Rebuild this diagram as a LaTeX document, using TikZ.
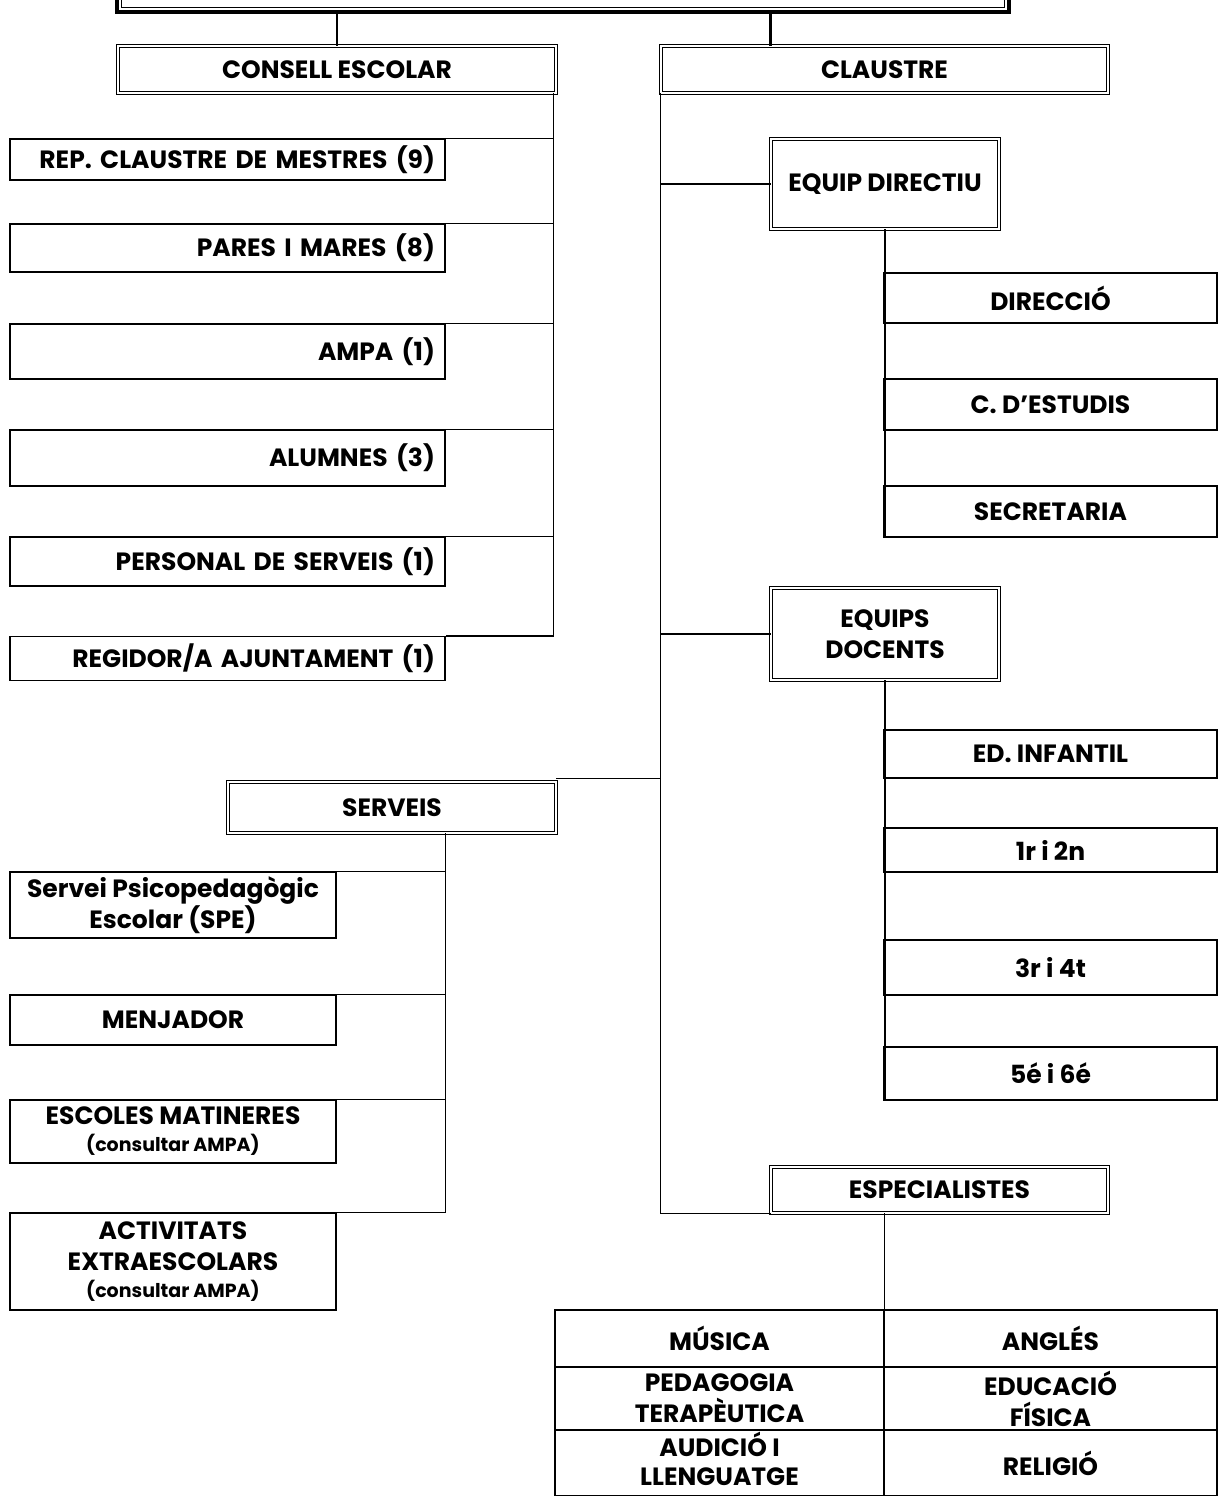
\documentclass[tikz,border=0pt]{standalone}
\usepackage{fontspec}
\setmainfont{Poppins}
\begin{document}
\begin{tikzpicture}[x=0.5pt, y=-0.5pt,
    every node/.style={font=\bfseries\fontsize{12.5}{15.5}\selectfont, inner sep=0pt, align=center},
    box/.style={draw, line width=0.6pt},
    dbox/.style={draw, line width=0.45pt, double, double distance=1.4pt},
    member/.style={box, minimum width=217.5pt, text width=207.5pt, align=right},
    child/.style={box, minimum width=166.5pt},
    service/.style={box, minimum width=163pt}]
    \useasboundingbox (0,0) rectangle (1220,1496);

    % Top box (cut off)
    \node[draw, line width=2.4pt, minimum width=446pt, minimum height=30pt] (top) at (563,-18) {};
    \draw[line width=0.6pt] ([shift={(3.5pt,-3.5pt)}]top.north west) rectangle ([shift={(-3.5pt,3.5pt)}]top.south east);

    % Main boxes
    \node[dbox, minimum width=219pt, minimum height=23.5pt] (cons) at (337,69.5) {CONSELL ESCOLAR};
    \node[dbox, minimum width=223.5pt, minimum height=23.5pt] (clau) at (884.5,69.5) {CLAUSTRE};

    % Consell escolar
    \node[member, minimum height=20.5pt] (rep) at (227.5,159.5) {REP. CLAUSTRE DE MESTRES (9)};
    \node[member, minimum height=24pt] (pares) at (227.5,248) {PARES I MARES (8)};
    \node[member, minimum height=27.5pt] (ampa) at (227.5,351.5) {AMPA (1)};
    \node[member, minimum height=28pt] (alum) at (227.5,458) {ALUMNES (3)};
    \node[member, minimum height=24.5pt] (pers) at (227.5,561.5) {PERSONAL DE SERVEIS (1)};
    \node[member, minimum height=22pt] (regi) at (227.5,658.5) {REGIDOR/A AJUNTAMENT (1)};

    % Claustre
    \node[dbox, minimum width=114pt, minimum height=45pt] (dir) at (885,184) {EQUIP DIRECTIU};
    \node[child, minimum height=25pt] (direc) at (1050.5,298) {DIRECCIÓ};
    \node[child, minimum height=25.5pt] (estud) at (1050.5,404.5) {C. D’ESTUDIS};
    \node[child, minimum height=25.5pt] (secr) at (1050.5,511.5) {SECRETARIA};

    \node[dbox, minimum width=114pt, minimum height=46pt] (doc) at (885,634) {EQUIPS\\DOCENTS};
    \node[child, minimum height=24pt] (inf) at (1050.5,754) {ED. INFANTIL};
    \node[child, minimum height=22pt] (c12) at (1050.5,850) {1r i 2n};
    \node[child, minimum height=27.5pt] (c34) at (1050.5,967.5) {3r i 4t};
    \node[child, minimum height=26.5pt] (c56) at (1050.5,1073.5) {5é i 6é};

    \node[dbox, minimum width=168.5pt, minimum height=23pt] (esp) at (939.5,1190) {ESPECIALISTES};
    \node[box, minimum width=164.5pt, minimum height=28.5pt] (mus) at (719.5,1338.5) {MÚSICA};
    \node[box, minimum width=166.5pt, minimum height=28.5pt] (ang) at (1050.5,1338.5) {ANGLÉS};
    \node[box, minimum width=164.5pt, minimum height=31.5pt] (ped) at (719.5,1398.5) {PEDAGOGIA\\TERAPÈUTICA};
    \node[box, minimum width=166.5pt, minimum height=31.5pt] (ef) at (1050.5,1398.5) {EDUCACIÓ\\FÍSICA};
    \node[box, minimum width=164.5pt, minimum height=33pt] (aud) at (719.5,1463)
        {\raisebox{2.5pt}{\begin{tabular}{@{}c@{}}AUDICIÓ I\\[-1pt]LLENGUATGE\end{tabular}}};
    \node[box, minimum width=166.5pt, minimum height=33pt] (rel) at (1050.5,1463) {RELIGIÓ};

    % Serveis
    \node[dbox, minimum width=164pt, minimum height=25.5pt] (serv) at (392,807.5) {SERVEIS};
    \node[service, minimum height=33pt] (spe) at (173,905) {Servei Psicopedagògic\\Escolar (SPE)};
    \node[service, minimum height=25pt] (menj) at (173,1020) {MENJADOR};
    \node[service, minimum height=31.5pt] (mat) at (173,1131.5) {ESCOLES MATINERES\\[-2pt]{\fontsize{9.5}{11}\selectfont (consultar AMPA)}};
    \node[service, minimum height=48.5pt] (act) at (173,1261.5) {ACTIVITATS\\EXTRAESCOLARS\\[-2pt]{\fontsize{9.5}{11}\selectfont (consultar AMPA)}};

    % Connectors
    \begin{scope}[line width=0.7pt]
    \draw (top.south -| cons.north) -- (cons.north);
    \draw[line width=1.6pt] (top.south -| dir.west) -- (clau.north -| dir.west);

    \coordinate (ct) at ([xshift=-1.5pt]cons.south east);
    \draw (ct) |- (regi.north east);
    \foreach \n in {rep,pares,ampa,alum,pers}
        \draw (\n.north east) -- (\n.north east -| ct);

    \draw (clau.south west) |- (esp.south west);
    \draw (dir.west) -- (dir.west -| clau.south west);
    \draw (doc.west) -- (doc.west -| clau.south west);
    \draw ([yshift=1.5pt]serv.north east) -- ([yshift=1.5pt]serv.north east -| clau.south west);

    \draw (dir.south) -- (dir.south |- secr.south);
    \draw (doc.south) -- (doc.south |- c56.south);
    \draw (esp.south -| mus.east) -- (mus.north east);

    \draw (serv.south -| rep.east) |- (act.north east);
    \foreach \n in {spe,menj,mat}
        \draw (\n.north east) -- (\n.north east -| rep.east);
    \end{scope}
\end{tikzpicture}
\end{document}
